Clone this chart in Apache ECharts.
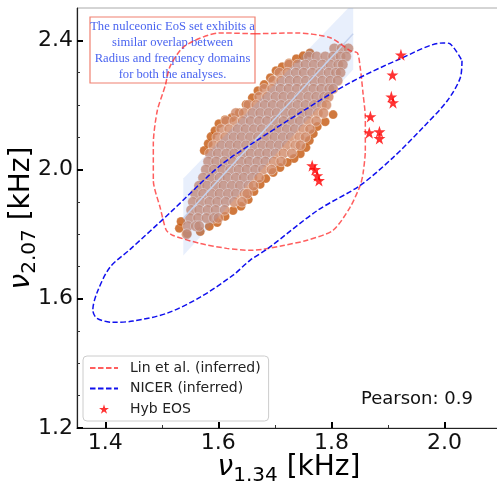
<!DOCTYPE html>
<html>
<head>
<meta charset="utf-8">
<script src="https://cdn.jsdelivr.net/npm/echarts@6/dist/echarts.min.js"></script>
<style>
  html, body { margin: 0; padding: 0; background: #fff; }
  #chart { width: 497px; height: 483px; }
</style>
</head>
<body>
<div id="chart"></div>
<script>
// 刻度
const xMajorTicks = [1.4, 1.6, 1.8, 2.0];
const xMinorTicks = [1.5, 1.7, 1.9];
const yMajorTicks = [1.2, 1.6, 2.0, 2.4];
const yMinorTicks = [1.3, 1.4, 1.5, 1.7, 1.8, 1.9, 2.1, 2.2, 2.3];

// nucleonic EoS cloud: rows of [y, [x, ...]]
const cloudRows = [
  [2.375, [1.805, 1.818, 1.830]],
  [2.350, [1.760, 1.774, 1.789, 1.803, 1.816, 1.826]],
  [2.325, [1.725, 1.740, 1.754, 1.769, 1.784, 1.798, 1.812, 1.820]],
  [2.300, [1.708, 1.722, 1.737, 1.751, 1.766, 1.780, 1.795, 1.808, 1.816]],
  [2.275, [1.697, 1.711, 1.726, 1.740, 1.755, 1.769, 1.784, 1.798, 1.811]],
  [2.250, [1.681, 1.695, 1.710, 1.724, 1.739, 1.753, 1.768, 1.782, 1.796, 1.803]],
  [2.225, [1.672, 1.686, 1.701, 1.715, 1.730, 1.744, 1.759, 1.773, 1.787, 1.795]],
  [2.200, [1.653, 1.667, 1.682, 1.696, 1.711, 1.725, 1.740, 1.754, 1.769, 1.783, 1.791]],
  [2.175, [1.631, 1.645, 1.660, 1.674, 1.689, 1.703, 1.718, 1.732, 1.747, 1.761, 1.776, 1.786]],
  [2.150, [1.614, 1.628, 1.643, 1.657, 1.672, 1.686, 1.701, 1.715, 1.730, 1.744, 1.759, 1.773]],
  [2.125, [1.605, 1.619, 1.634, 1.648, 1.663, 1.677, 1.692, 1.706, 1.721, 1.735, 1.750, 1.762]],
  [2.100, [1.598, 1.612, 1.627, 1.641, 1.656, 1.670, 1.685, 1.699, 1.714, 1.728, 1.743, 1.754]],
  [2.075, [1.591, 1.605, 1.620, 1.634, 1.649, 1.663, 1.678, 1.692, 1.707, 1.721, 1.736, 1.745]],
  [2.050, [1.585, 1.599, 1.614, 1.628, 1.643, 1.657, 1.672, 1.686, 1.701, 1.715, 1.730]],
  [2.025, [1.582, 1.596, 1.611, 1.625, 1.640, 1.654, 1.669, 1.683, 1.698, 1.711]],
  [2.000, [1.578, 1.592, 1.607, 1.621, 1.636, 1.650, 1.665, 1.679, 1.694]],
  [1.975, [1.573, 1.587, 1.602, 1.616, 1.631, 1.645, 1.660, 1.672]],
  [1.950, [1.566, 1.580, 1.595, 1.609, 1.624, 1.638, 1.653, 1.662]],
  [1.925, [1.559, 1.573, 1.588, 1.602, 1.617, 1.631, 1.646, 1.651]],
  [1.900, [1.555, 1.569, 1.584, 1.598, 1.613, 1.628, 1.642]],
  [1.875, [1.552, 1.566, 1.581, 1.595, 1.611]],
  [1.850, [1.550, 1.564, 1.579, 1.592, 1.600]],
  [1.825, [1.546, 1.560, 1.566]],
  [1.800, [1.544]]
];

// darker points peeking out at the cloud fringe
const cloudEdge = [
  [1.531, 1.818], [1.534, 1.839], [1.545, 1.802],
  [1.575, 2.059], [1.582, 2.080], [1.587, 2.102], [1.594, 2.120], [1.601, 2.142],
  [1.612, 2.154], [1.624, 2.161], [1.637, 2.176], [1.649, 2.201], [1.660, 2.222],
  [1.670, 2.244], [1.681, 2.263], [1.692, 2.284], [1.702, 2.306], [1.713, 2.318],
  [1.725, 2.330], [1.738, 2.343], [1.750, 2.352], [1.762, 2.361],
  [1.803, 2.170], [1.789, 2.148], [1.775, 2.133], [1.768, 2.111], [1.761, 2.090],
  [1.755, 2.068], [1.745, 2.049], [1.734, 2.034], [1.722, 2.022], [1.709, 2.006],
  [1.697, 1.991], [1.684, 1.972], [1.674, 1.954], [1.663, 1.932], [1.653, 1.907],
  [1.640, 1.886], [1.626, 1.873], [1.612, 1.855], [1.598, 1.836], [1.584, 1.824],
  [1.568, 1.808]
];

// Hyb EOS stars
const hybEos = [
  [1.923, 2.355], [1.908, 2.293], [1.906, 2.225], [1.909, 2.207],
  [1.869, 2.164], [1.867, 2.114], [1.885, 2.117], [1.885, 2.096],
  [1.766, 2.012], [1.771, 2.000], [1.775, 1.981], [1.778, 1.966]
];

// Lin et al. contour
const linContour = [
  [1.665, 2.420], [1.739, 2.423], [1.798, 2.408], [1.833, 2.368], [1.846, 2.361],
  [1.851, 2.315], [1.856, 2.235], [1.860, 2.161], [1.860, 2.059], [1.856, 1.988],
  [1.851, 1.951], [1.833, 1.883], [1.803, 1.812], [1.757, 1.781], [1.715, 1.765],
  [1.679, 1.753], [1.656, 1.750], [1.615, 1.756], [1.568, 1.771], [1.520, 1.796],
  [1.508, 1.812], [1.497, 1.883], [1.485, 1.966], [1.485, 2.080], [1.492, 2.182],
  [1.506, 2.259], [1.515, 2.321], [1.541, 2.383], [1.603, 2.423], [1.665, 2.420]
];

// NICER contour
const nicerContour = [
  [2.031, 2.337], [2.028, 2.284], [2.005, 2.213], [1.962, 2.130], [1.909, 2.037],
  [1.851, 1.951], [1.775, 1.873], [1.688, 1.756], [1.656, 1.719], [1.626, 1.673],
  [1.568, 1.605], [1.509, 1.555], [1.449, 1.531], [1.414, 1.527], [1.385, 1.540],
  [1.378, 1.565], [1.385, 1.617], [1.408, 1.697], [1.444, 1.753], [1.515, 1.867],
  [1.603, 2.012], [1.662, 2.083], [1.745, 2.176], [1.830, 2.266], [1.922, 2.343],
  [1.998, 2.392], [2.010, 2.389], [2.031, 2.337]
];

// regression line and its band
const regLine = [[1.538, 1.849], [1.8385, 2.42]];
const regBand = [[1.538, 1.972], [1.83, 2.5], [1.8385, 2.5], [1.8385, 2.31], [1.538, 1.734]];

const FONT = 'DejaVu Sans';
const STAR_SHAPE = 'M50 0 L61.23 34.55 L97.55 34.55 L68.16 55.9 L79.39 90.45 L50 69.1 L20.61 90.45 L31.84 55.9 L2.45 34.55 L38.77 34.55 Z';
const STAR = 'path://' + STAR_SHAPE;
// 图例里的星号小一点：外加空白边距
const STAR_LEGEND = 'path://M-22 -22 M122 112 ' + STAR_SHAPE;

const cloudPoints = [];
cloudRows.forEach(([y, xs]) => xs.forEach(x => cloudPoints.push([x, y])));

const nameRich = {
  nu: { fontSize: 28, fontStyle: 'italic', fontFamily: FONT, lineHeight: 36, color: '#000' },
  sub: { fontSize: 20, fontFamily: FONT, lineHeight: 20, verticalAlign: 'bottom', color: '#000' },
  u: { fontSize: 28, fontFamily: FONT, lineHeight: 36, color: '#000' }
};

function majorAxis(ticks, extra) {
  return Object.assign({
    type: 'value',
    nameMoveOverlap: false,
    axisLine: { show: true, onZero: false, lineStyle: { color: '#222', width: 1.2 } },
    axisTick: { show: true, inside: true, length: 6, customValues: ticks, lineStyle: { color: '#000', width: 2 } },
    axisLabel: { customValues: ticks, fontSize: 22, fontFamily: FONT, color: '#111', margin: 4, formatter: v => v.toFixed(1) },
    splitLine: { show: false }
  }, extra);
}

function minorAxis(ticks, extra) {
  return Object.assign({
    type: 'value',
    axisLine: { show: false },
    axisTick: { show: true, inside: true, length: 3, customValues: ticks, lineStyle: { color: '#333', width: 1 } },
    axisLabel: { show: false },
    splitLine: { show: false }
  }, extra);
}

const chart = echarts.init(document.getElementById('chart'));

chart.setOption({
  animation: false,
  grid: {
    left: 77, top: 8, width: 424, height: 420,
    containLabel: false, outerBoundsMode: 'none',
    show: true, borderColor: '#aaa', borderWidth: 1
  },
  xAxis: [
    majorAxis(xMajorTicks, {
      min: 1.35, max: 2.1, position: 'bottom',
      name: '{nu|ν}{sub|1.34}{u| [kHz]}', nameLocation: 'middle', nameGap: 22,
      nameTextStyle: { rich: nameRich }
    }),
    minorAxis(xMinorTicks, { min: 1.35, max: 2.1, position: 'bottom' })
  ],
  yAxis: [
    majorAxis(yMajorTicks, {
      min: 1.2, max: 2.5, position: 'left',
      name: '{nu|ν}{sub|2.07}{u| [kHz]}', nameLocation: 'middle', nameGap: 37,
      nameTextStyle: { rich: nameRich }
    }),
    minorAxis(yMinorTicks, { min: 1.2, max: 2.5, position: 'left' })
  ],
  legend: {
    orient: 'vertical',
    left: 83, top: 356,
    padding: [5, 8, 5, 6],
    itemWidth: 28, itemHeight: 14, itemGap: 6.5,
    borderColor: '#ccc', borderWidth: 1, borderRadius: 4,
    backgroundColor: 'rgba(255,255,255,0.8)',
    textStyle: { fontSize: 14, fontFamily: FONT, color: '#222', padding: [0, 0, 0, 7] },
    data: [
      { name: 'Lin et al. (inferred)', itemStyle: { opacity: 0 } },
      { name: 'NICER (inferred)', itemStyle: { opacity: 0 } },
      { name: 'Hyb EOS', icon: STAR_LEGEND }
    ]
  },
  series: [
    {
      type: 'scatter', data: cloudEdge, symbolSize: 9, z: 1, silent: true,
      itemStyle: { color: '#c4560c', borderColor: 'rgba(255,255,255,0.5)', borderWidth: 0.5 }
    },
    {
      type: 'scatter', data: cloudPoints, symbolSize: 10.5, z: 2, silent: true,
      itemStyle: { color: '#d08866', borderColor: 'rgba(255,255,255,0.7)', borderWidth: 0.7 }
    },
    {
      type: 'custom', z: 3, silent: true,
      data: [regBand[0]],
      renderItem: (params, api) => ({
        type: 'polygon',
        shape: { points: regBand.map(p => api.coord(p)) },
        style: { fill: 'rgba(100,149,237,0.15)' }
      })
    },
    {
      type: 'line', data: regLine, symbol: 'none', z: 4, silent: true,
      lineStyle: { color: '#c6d3ee', width: 1.5 }
    },
    {
      name: 'Lin et al. (inferred)', type: 'line', data: linContour, symbol: 'none', smooth: 0.25, z: 5,
      lineStyle: { color: 'rgba(255,40,40,0.75)', width: 1.5, type: [5.5, 2.5] },
      itemStyle: { color: 'rgba(255,40,40,0.75)' }
    },
    {
      name: 'NICER (inferred)', type: 'line', data: nicerContour, symbol: 'none', smooth: 0.3, z: 5,
      lineStyle: { color: '#1010ee', width: 1.5, type: [5.5, 2.5] },
      itemStyle: { color: '#1010ee' }
    },
    {
      name: 'Hyb EOS', type: 'scatter', data: hybEos, symbol: STAR, symbolSize: 12, z: 6,
      itemStyle: { color: '#ff0000' }
    }
  ],
  graphic: [
    {
      type: 'group', z: 100,
      children: [
        {
          type: 'rect', shape: { x: 90, y: 17, width: 165, height: 66 },
          style: { fill: '#fff', stroke: '#f08070', lineWidth: 1.2 }
        },
        {
          type: 'text', x: 172.5, y: 51,
          style: {
            text: 'The nulceonic EoS set exhibits a\nsimilar overlap between\nRadius and frequency domains\nfor both the analyses.',
            align: 'center', verticalAlign: 'middle',
            fontFamily: 'Liberation Serif', fontSize: 12.6, lineHeight: 16, fill: '#4a64f0'
          }
        }
      ]
    },
    {
      type: 'text', left: 361, top: 390, z: 100,
      style: { text: 'Pearson: 0.9', fontFamily: FONT, fontSize: 18, fill: '#111' }
    }
  ]
});
</script>
</body>
</html>
